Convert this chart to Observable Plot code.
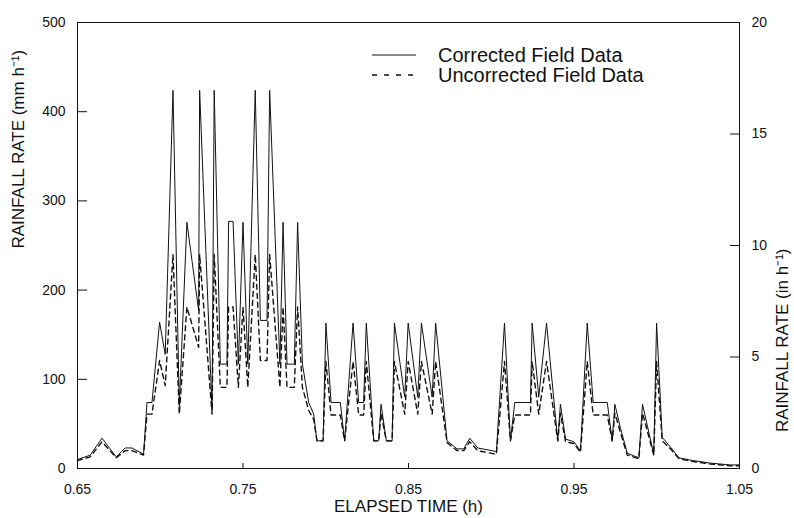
<!DOCTYPE html>
<html>
<head>
<meta charset="utf-8">
<script src="https://cdn.jsdelivr.net/npm/d3@7"></script>
<script src="https://cdn.jsdelivr.net/npm/@observablehq/plot@0.6"></script>
<style>
  body { margin: 0; background: #fff; }
  #wrap { position: relative; width: 794px; height: 518px; font-family: "Liberation Sans", Arial, Helvetica, sans-serif; color: #111; }
  #legend { position: absolute; left: 372px; top: 45px; font-size: 20px; }
  .row { display: flex; align-items: center; height: 20px; }
  .row svg { width: 44px; height: 20px; }
  .row span { margin-left: 22px; white-space: nowrap; }
</style>
</head>
<body>
<div id="wrap"></div>
<script>
// ---- data ----
const time = [0.6500,0.6577,0.6648,0.6734,0.6788,0.6829,0.6899,0.6920,0.6950,0.6996,
  0.7030,0.7077,0.7115,0.7161,0.7232,0.7238,0.7313,0.7326,0.7363,0.7403,
  0.7413,0.7440,0.7472,0.7500,0.7529,0.7574,0.7605,0.7645,0.7661,0.7723,
  0.7742,0.7766,0.7810,0.7830,0.7859,0.7897,0.7927,0.7947,0.7984,0.8001,
  0.8032,0.8088,0.8114,0.8165,0.8199,0.8229,0.8245,0.8290,0.8320,0.8334,
  0.8366,0.8401,0.8415,0.8477,0.8498,0.8556,0.8578,0.8643,0.8664,0.8733,
  0.8794,0.8834,0.8870,0.8918,0.9031,0.9080,0.9116,0.9142,0.9237,0.9247,
  0.9287,0.9334,0.9402,0.9418,0.9449,0.9499,0.9539,0.9580,0.9616,0.9701,
  0.9731,0.9747,0.9781,0.9822,0.9892,0.9914,0.9982,0.9999,1.0033,1.0083,
  1.0134,1.0215,1.0325,1.0446,1.0500];
const corrected = [10,15,34,13,23,23,16,74,74,164,
  128,424,70,276,177,424,65,424,117,117,
  277,277,117,276,117,424,166,166,424,117,
  276,117,117,276,117,74,61,31,31,163,
  74,74,31,163,74,74,163,31,31,72,
  31,31,163,80,163,80,163,80,163,31,
  22,22,34,23,19,163,31,74,74,163,
  80,163,31,72,33,30,20,163,74,74,
  31,72,45,17,12,72,16,163,35,24,
  12,9,6,4,4];
const uncorrected = [9,13,30,12,20,20,15,61,61,121,
  93,240,61,181,136,240,61,240,91,91,
  181,181,91,181,91,240,121,121,240,91,
  181,91,91,181,91,65,55,31,31,120,
  60,60,31,120,60,60,120,31,31,62,
  31,31,120,61,120,61,120,61,120,29,
  20,20,30,20,16,120,31,60,60,120,
  61,120,31,62,30,28,18,120,60,60,
  31,62,40,15,11,62,15,120,31,22,
  11,8,5,3,3];
const xTicks = [0.65, 0.75, 0.85, 0.95, 1.05];
const leftTicks = [0, 100, 200, 300, 400, 500];
const rightTicks = [0, 5, 10, 15, 20];
const mmPerRightUnit = 25;
const seriesNames = ["Corrected Field Data", "Uncorrected Field Data"];
const xTitle = "ELAPSED TIME (h)";
const leftTitle = "RAINFALL RATE (mm h\u207B\u00B9)";
const rightTitle = "RAINFALL RATE (in h\u207B\u00B9)";

const rows = time.map((t, i) => ({t, corrected: corrected[i], uncorrected: uncorrected[i]}));

const ink = "#111";
const chart = Plot.plot({
  width: 794,
  height: 518,
  marginLeft: 77,
  marginRight: 55,
  marginTop: 22,
  marginBottom: 50,
  style: {fontFamily: '"Liberation Sans", Arial, Helvetica, sans-serif', fontSize: "14px", color: ink, background: "#fff"},
  x: {domain: [0.65, 1.05]},
  y: {domain: [0, 500]},
  marks: [
    Plot.line(rows, {x: "t", y: "uncorrected", stroke: ink, strokeWidth: 1.4, strokeDasharray: "5,4"}),
    Plot.line(rows, {x: "t", y: "corrected", stroke: ink, strokeWidth: 1}),
    Plot.frame({stroke: ink, strokeWidth: 1}),
    Plot.axisX(xTicks, {anchor: "bottom", tickSize: -5, tickPadding: 21, tickFormat: d3.format(".2f"), label: null, fontSize: 14}),
    Plot.axisY(leftTicks, {anchor: "left", tickSize: -10, tickPadding: 22, label: null, fontSize: 14}),
    Plot.axisY(rightTicks.map(v => v * mmPerRightUnit), {anchor: "right", tickSize: -10, tickPadding: 22, tickFormat: d => d / mmPerRightUnit, label: null, fontSize: 14}),
    Plot.text([xTitle], {frameAnchor: "bottom", dy: 43, fontSize: 17, fill: ink}),
    Plot.text([leftTitle], {frameAnchor: "left", dx: -59, dy: 3, rotate: -90, fontSize: 17, fill: ink}),
    Plot.text([rightTitle], {frameAnchor: "right", dx: 43, dy: 3, rotate: -90, fontSize: 17, fill: ink})
  ]
});

const wrap = document.getElementById("wrap");
wrap.appendChild(chart);

// legend (inside plot area, as in the reference)
const legend = document.createElement("div");
legend.id = "legend";
const dashes = [null, "5,7"];
seriesNames.forEach((name, i) => {
  const row = document.createElement("div");
  row.className = "row";
  row.innerHTML = `<svg viewBox="0 0 44 20"><line x1="0" x2="44" y1="10" y2="10" stroke="${ink}" stroke-width="${i ? 1.6 : 1}" ${dashes[i] ? `stroke-dasharray="${dashes[i]}"` : ""}/></svg><span>${name}</span>`;
  legend.appendChild(row);
});
wrap.appendChild(legend);
</script>
</body>
</html>
